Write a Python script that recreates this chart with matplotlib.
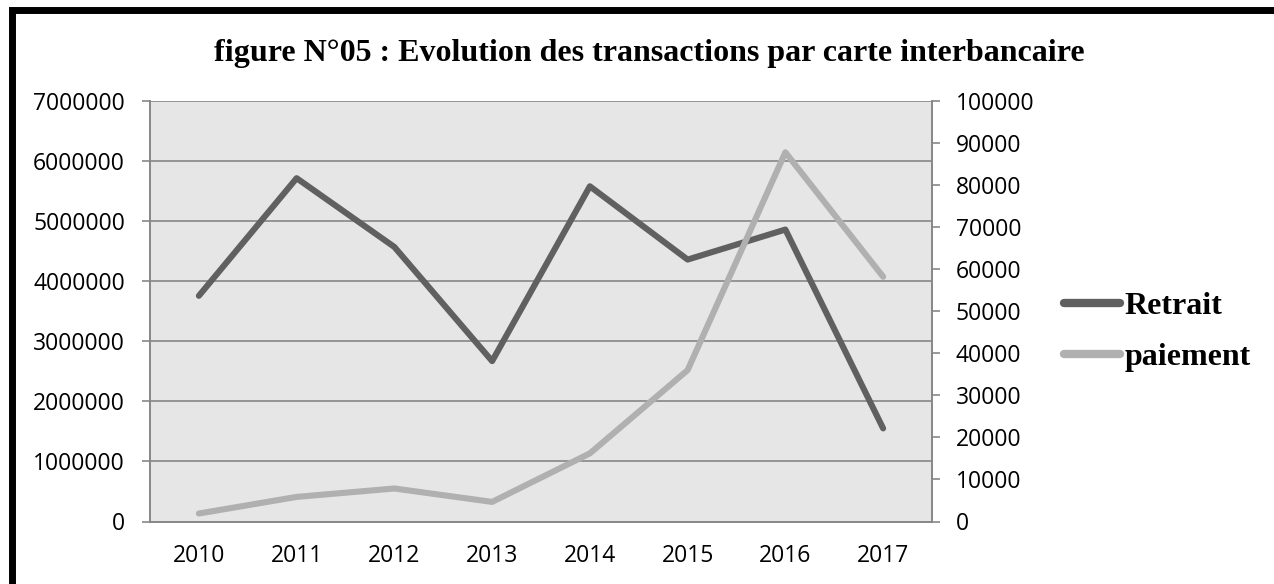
import matplotlib
matplotlib.use("Agg")
import matplotlib.pyplot as plt
from matplotlib.patches import Rectangle
from matplotlib.ticker import MultipleLocator

years = ["2010", "2011", "2012", "2013", "2014", "2015", "2016", "2017"]
retrait = [3757000, 5715000, 4570000, 2670000, 5580000, 4360000, 4860000, 1550000]
paiement = [1900, 5850, 7850, 4660, 16200, 36000, 87800, 58200]
title = "figure N°05 : Evolution des transactions par carte interbancaire"

W, H = 1274, 584
fig = plt.figure(figsize=(W / 100, H / 100), dpi=100)

ax = fig.add_axes([150 / W, 1 - 521.5 / H, (932 - 150) / W, (521.5 - 101) / H])
ax2 = ax.twinx()

tick_font = {"family": "Open Sans", "size": 16.5}
grid_c = "#878787"

ax.set_facecolor("#e6e6e6")
x = list(range(len(years)))
l1, = ax.plot(x, retrait, color="#606060", lw=4.4, solid_capstyle="round",
              solid_joinstyle="round", label="Retrait", zorder=3)
l2, = ax2.plot(x, paiement, color="#b0b0b0", lw=4.4, solid_capstyle="round",
               solid_joinstyle="round", label="paiement", zorder=3)

ax.set_xlim(-0.5, len(years) - 0.5)
ax.set_ylim(0, 7000000)
ax2.set_ylim(0, 100000)
ax.yaxis.set_major_locator(MultipleLocator(1000000))
ax2.yaxis.set_major_locator(MultipleLocator(10000))
ax.set_xticks(x)
ax.set_xticklabels(years, fontdict=tick_font)
ax.set_yticklabels([f"{int(v)}" for v in ax.get_yticks()], fontdict=tick_font)
ax2.set_yticklabels([f"{int(v)}" for v in ax2.get_yticks()], fontdict=tick_font)

ax.grid(axis="y", color=grid_c, lw=1.2, zorder=1)
ax.set_axisbelow(True)
for a in (ax, ax2):
    a.spines["top"].set_visible(False)
    for s in ("left", "right", "bottom"):
        a.spines[s].set_color(grid_c)
        a.spines[s].set_linewidth(1.2)
ax.tick_params(axis="x", length=0, pad=16)
ax.tick_params(axis="y", length=6, color=grid_c, width=1.2, pad=12)
ax2.tick_params(axis="y", length=6, color=grid_c, width=1.2, pad=11)

fig.text(0.51, 1 - 54 / H, title, ha="center", va="center",
         family="Liberation Serif", weight="bold", size=23)

leg = fig.legend(handles=[l1, l2], loc="center left",
                 bbox_to_anchor=(1064 / W, 1 - 332 / H),
                 frameon=False, borderpad=0, borderaxespad=0, handlelength=1.75,
                 handletextpad=0.15, labelspacing=0.66,
                 prop={"family": "Liberation Serif", "weight": "bold", "size": 23})
for h in leg.get_lines():
    h.set_linewidth(6)

fig.patches.append(Rectangle((12 / W, -0.2), 1.2, 1 - 10.5 / H + 0.2,
                             transform=fig.transFigure, fill=False,
                             edgecolor="black", lw=5, zorder=10))

fig.savefig("out.png", dpi=100)
